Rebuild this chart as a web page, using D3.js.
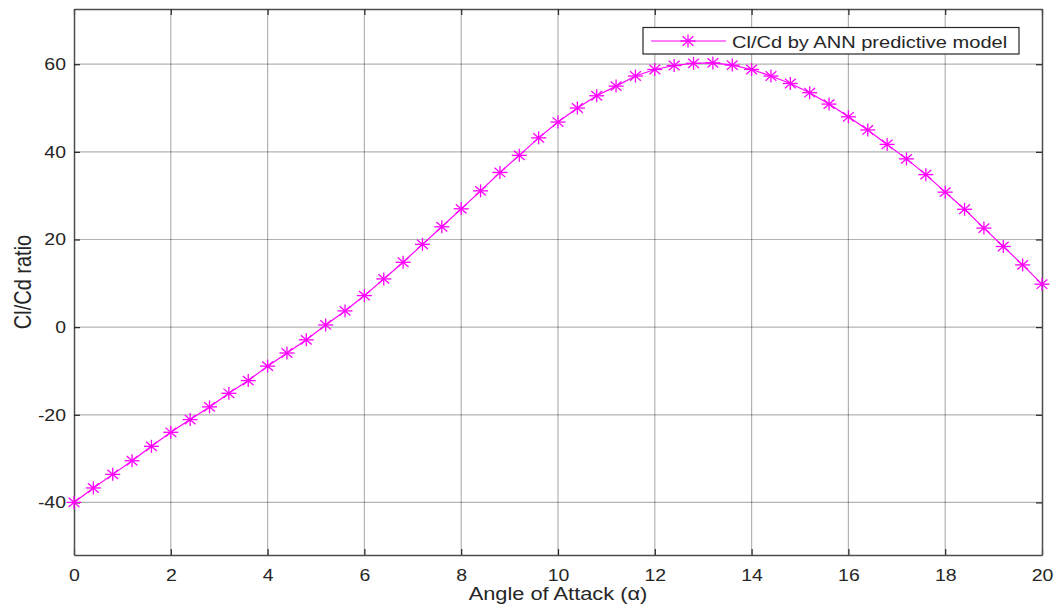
<!DOCTYPE html>
<html>
<head>
<meta charset="utf-8">
<script src="https://cdn.jsdelivr.net/npm/d3@7"></script>
<style>
  body { margin: 0; background: #fff; }
  text { font-family: "Liberation Sans", Arial, sans-serif; fill: #262626; }
</style>
</head>
<body>
<div id="container"></div>
<script>
// angle of attack (deg) and Cl/Cd
let angles = [0, 0.4, 0.8, 1.2, 1.6, 2, 2.4, 2.8, 3.2, 3.6,
  4, 4.4, 4.8, 5.2, 5.6, 6, 6.4, 6.8, 7.2, 7.6,
  8, 8.4, 8.8, 9.2, 9.6, 10, 10.4, 10.8, 11.2, 11.6,
  12, 12.4, 12.8, 13.2, 13.6, 14, 14.4, 14.8, 15.2, 15.6,
  16, 16.4, 16.8, 17.2, 17.6, 18, 18.4, 18.8, 19.2, 19.6, 20];
let clcd = [-40.0, -36.7, -33.6, -30.5, -27.2, -24.0, -21.1, -18.2, -15.1, -12.2,
  -8.9, -5.9, -2.9, 0.5, 3.7, 7.2, 11.0, 14.8, 18.9, 22.9,
  27.0, 31.1, 35.3, 39.2, 43.2, 46.8, 50.0, 52.8, 55.0, 57.3,
  58.8, 59.7, 60.2, 60.3, 59.8, 58.8, 57.3, 55.6, 53.5, 50.9,
  48.0, 45.0, 41.7, 38.4, 34.8, 30.8, 26.9, 22.6, 18.4, 14.2, 9.8];
let xTicks = [0, 2, 4, 6, 8, 10, 12, 14, 16, 18, 20];
let yTicks = [-40, -20, 0, 20, 40, 60];
let seriesName = "Cl/Cd by ANN predictive model";

let w = 1057;
let h = 605;
let plotLeft = 74, plotRight = 1042, plotTop = 9, plotBottom = 555;
let sx = 1.18; // picture is stretched sideways
let magenta = "#ff00ff";

let viz = d3.select("#container").append("svg")
  .attr("width", w)
  .attr("height", h);

let xScale = d3.scaleLinear().domain([0, 20]).range([plotLeft, plotRight]);
let yScale = d3.scaleLinear().domain([-52, 72.6]).range([plotBottom, plotTop]);

// grid
viz.append("g").selectAll("line").data(xTicks.slice(1, -1)).enter().append("line")
  .attr("x1", d => xScale(d)).attr("x2", d => xScale(d))
  .attr("y1", plotTop).attr("y2", plotBottom)
  .attr("stroke", "#000").attr("stroke-opacity", 0.3).attr("stroke-width", 1.2);
viz.append("g").selectAll("line").data(yTicks).enter().append("line")
  .attr("y1", d => yScale(d)).attr("y2", d => yScale(d))
  .attr("x1", plotLeft).attr("x2", plotRight)
  .attr("stroke", "#000").attr("stroke-opacity", 0.3).attr("stroke-width", 1.2);

// plain hyphen minus like MATLAB
let plainFmt = d => String(d);

// axes (ticks inward, MATLAB box)
let xAxis = viz.append("g").attr("transform", "translate(0," + plotBottom + ")")
  .call(d3.axisBottom(xScale).tickValues(xTicks).tickFormat(plainFmt).tickSizeInner(-6).tickSizeOuter(0).tickPadding(14));
let xAxisTop = viz.append("g").attr("transform", "translate(0," + plotTop + ")")
  .call(d3.axisTop(xScale).tickValues(xTicks).tickSizeInner(-6).tickSizeOuter(0).tickFormat(""));
let yAxis = viz.append("g").attr("transform", "translate(" + plotLeft + ",0)")
  .call(d3.axisLeft(yScale).tickValues(yTicks).tickFormat(plainFmt).tickSizeInner(-6).tickSizeOuter(0).tickPadding(14));
let yAxisRight = viz.append("g").attr("transform", "translate(" + plotRight + ",0)")
  .call(d3.axisRight(yScale).tickValues(yTicks).tickSizeInner(-6).tickSizeOuter(0).tickFormat(""));

[xAxis, xAxisTop, yAxis, yAxisRight].forEach(function(g){
  g.select(".domain").attr("stroke", "#4d4d4d").attr("stroke-width", 1.5);
  g.selectAll(".tick line").attr("stroke", "#262626").attr("stroke-width", 1.2);
  g.selectAll(".tick text").attr("font-size", 16.5).attr("fill", "#333")
    .style("font-family", "Liberation Sans, Arial, sans-serif");
});
// stretch tick labels sideways like the picture
xAxis.selectAll(".tick text").each(function(){
  let t = d3.select(this);
  let y = +t.attr("y");
  t.attr("y", null).attr("transform", "translate(0," + y + ") scale(" + sx + ",1)");
});
yAxis.selectAll(".tick text").each(function(){
  let t = d3.select(this);
  let x = +t.attr("x");
  t.attr("x", null).attr("transform", "translate(" + (x + 6) + ",0) scale(" + sx + ",1)");
});

// line + asterisk markers
let pts = angles.map((a, i) => [a, clcd[i]]);
viz.append("path")
  .datum(pts)
  .attr("d", d3.line().x(d => xScale(d[0])).y(d => yScale(d[1])))
  .attr("fill", "none")
  .attr("stroke", magenta)
  .attr("stroke-width", 1.2);

function asterisk(g, rx, ry){
  let dx = rx * 0.72, dy = ry * 0.72;
  let segs = [[-rx, 0, rx, 0], [0, -ry, 0, ry], [-dx, -dy, dx, dy], [-dx, dy, dx, -dy]];
  segs.forEach(function(s){
    g.append("line").attr("x1", s[0]).attr("y1", s[1]).attr("x2", s[2]).attr("y2", s[3])
      .attr("stroke", magenta).attr("stroke-width", 1.3);
  });
}

viz.append("g").selectAll("g").data(pts).enter().append("g")
  .attr("transform", d => "translate(" + xScale(d[0]) + "," + yScale(d[1]) + ")")
  .each(function(){ asterisk(d3.select(this), 7.5, 6.5); });

// legend
let legend = viz.append("g");
legend.append("rect")
  .attr("x", 643).attr("y", 27.5).attr("width", 376).attr("height", 26.5)
  .attr("fill", "#fff").attr("stroke", "#262626").attr("stroke-width", 1.2);
legend.append("line")
  .attr("x1", 651).attr("x2", 726).attr("y1", 41).attr("y2", 41)
  .attr("stroke", magenta).attr("stroke-width", 1.2);
asterisk(legend.append("g").attr("transform", "translate(688,41)"), 7.5, 6.5);
legend.append("text")
  .text(seriesName)
  .attr("transform", "translate(732,47.5) scale(" + sx + ",1)")
  .attr("font-size", 17);

// axis labels
viz.append("text")
  .text("Angle of Attack (\u03b1)")
  .attr("transform", "translate(" + ((plotLeft + plotRight) / 2) + ",600) scale(" + sx + ",1)")
  .attr("text-anchor", "middle")
  .attr("font-size", 18.5);

viz.append("text")
  .text("Cl/Cd ratio")
  .attr("transform", "translate(31," + ((plotTop + plotBottom) / 2) + ") rotate(-90) scale(1," + sx + ")")
  .attr("text-anchor", "middle")
  .attr("font-size", 20);
</script>
</body>
</html>
